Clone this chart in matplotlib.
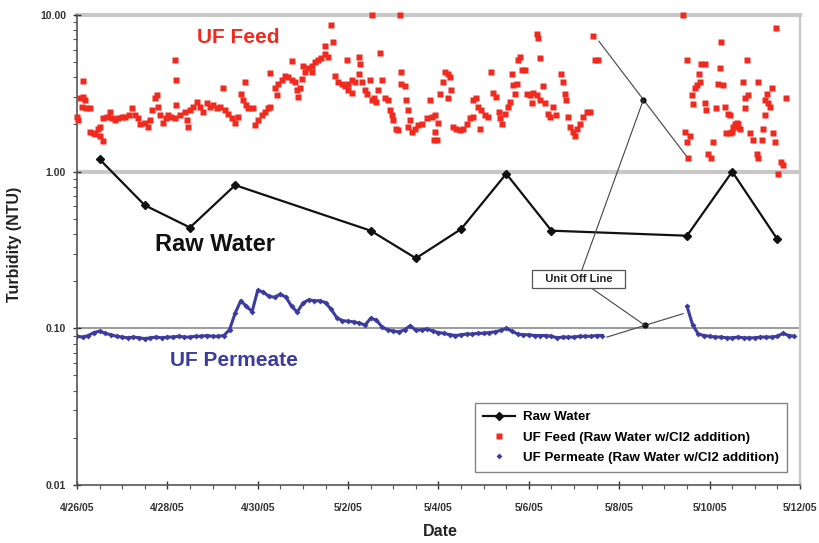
import numpy as np
import matplotlib
matplotlib.use("Agg")
import matplotlib.pyplot as plt
import matplotlib.dates as mdates
from matplotlib.lines import Line2D
from matplotlib.ticker import FuncFormatter, LogLocator, MultipleLocator, NullFormatter

plt.rcParams["font.family"] = ["Liberation Sans", "DejaVu Sans"]
plt.rcParams["font.weight"] = "bold"

START = np.datetime64("2005-04-26T00:00")

# raw water grab samples (days after 4/26/05 00:00, NTU)
raw_day = [0.5, 1.5, 2.5, 3.5, 6.5, 7.5, 8.5, 9.5, 10.5, 13.5, 14.5, 15.5]
raw_ntu = [1.2, 0.61, 0.44, 0.82, 0.42, 0.28, 0.43, 0.97, 0.42, 0.39, 1.0, 0.37]

# UF feed on-line turbidimeter (raw water w/Cl2 addition)
feed_day = [
    0.00, 0.03, 0.07, 0.10, 0.14, 0.14, 0.18, 0.21, 0.29, 0.29, 0.36, 0.40, 0.47, 0.51, 0.51, 0.58,
    0.58, 0.66, 0.73, 0.77, 0.84, 0.91, 0.99, 1.06, 1.14, 1.21, 1.28, 1.36, 1.39, 1.50, 1.58, 1.62,
    1.65, 1.73, 1.76, 1.80, 1.84, 1.91, 1.98, 2.02, 2.09, 2.17, 2.17, 2.20, 2.20, 2.28, 2.39, 2.43,
    2.46, 2.50, 2.57, 2.65, 2.72, 2.79, 2.87, 2.94, 3.02, 3.09, 3.16, 3.24, 3.27, 3.35, 3.42, 3.50,
    3.57, 3.64, 3.68, 3.72, 3.75, 3.79,
    3.90, 3.94, 4.01, 4.09, 4.16, 4.23, 4.27, 4.27, 4.38, 4.42, 4.45, 4.53, 4.60, 4.67, 4.75, 4.75,
    4.83, 4.86, 4.90, 4.93, 4.97, 5.01, 5.04, 5.12, 5.19, 5.19, 5.27, 5.34, 5.41, 5.49, 5.49, 5.56,
    5.63, 5.67, 5.71, 5.78, 5.86, 5.93, 5.97, 6.00, 6.00, 6.08, 6.08, 6.15, 6.23, 6.23, 6.26, 6.30,
    6.37, 6.41, 6.48, 6.52, 6.52, 6.58, 6.62, 6.67, 6.70, 6.74, 6.81, 6.89, 6.92, 6.96, 6.99, 7.07,
    7.11, 7.15, 7.18, 7.18, 7.26, 7.29, 7.33, 7.37, 7.33, 7.41, 7.48, 7.55, 7.63, 7.74, 7.81, 7.85,
    7.89,
    7.92, 7.96, 7.92, 7.99, 8.03, 8.10, 8.14, 8.21, 8.25, 8.28, 8.21, 8.33, 8.39, 8.47, 8.55, 8.62,
    8.69, 8.77, 8.77, 8.84, 8.92, 8.88, 8.95, 9.03, 9.10, 9.17, 9.21, 9.28, 9.33, 9.36, 9.40, 9.47,
    9.54, 9.58, 9.62, 9.65, 9.73, 9.69, 9.77, 9.84, 9.91, 9.80, 9.95, 10.02, 10.10, 10.06, 10.17, 10.20,
    10.24, 10.17, 10.24, 10.31, 10.35, 10.43, 10.46, 10.54, 10.61, 10.72, 10.76, 10.80, 10.83, 10.87, 10.91, 10.98,
    11.02, 11.06, 11.13, 11.20, 11.28, 11.35, 11.42, 11.46, 11.54,
    13.41, 13.52, 13.45, 13.56, 13.49, 13.49, 13.60, 13.64, 13.67, 13.71, 13.78, 13.77, 13.82, 13.89, 13.89, 13.93,
    13.97, 14.04, 14.08, 14.15, 14.19, 14.22, 14.26, 14.30, 14.34, 14.41, 14.45, 14.49, 14.52, 14.56, 14.60, 14.63,
    14.67, 14.45, 14.74, 14.78, 14.82, 14.85, 14.78, 14.89, 14.96, 15.04, 15.07, 15.15, 15.18, 15.22, 15.26, 15.29,
    15.33, 15.37, 15.41, 15.44, 15.48, 15.59, 15.62, 15.51, 15.70, 15.07, 15.22, 14.60, 14.37,
]
feed_ntu = [
    2.24, 2.14, 2.94, 2.60, 3.80, 3.00, 2.87, 2.54, 2.54, 1.80, 1.77, 1.74, 1.88, 1.93, 1.68, 1.56,
    2.19, 2.24, 2.40, 2.19, 2.14, 2.19, 2.24, 2.24, 2.30, 2.54, 2.30, 2.19, 2.00, 2.05, 1.93, 2.14,
    2.48, 2.94, 3.10, 2.60, 2.30, 2.05, 2.19, 2.30, 2.24, 2.19, 5.16, 2.65, 3.85, 2.30, 2.40, 2.14,
    1.93, 2.48, 2.60, 2.80, 2.60, 2.40, 2.75, 2.60, 2.65, 2.54, 2.60, 3.40, 2.48, 2.35, 2.19, 2.05,
    2.24, 3.15, 2.87, 3.75, 2.65, 2.54,
    2.54, 1.98, 2.14, 2.30, 2.40, 2.54, 2.60, 4.28, 3.40, 3.10, 3.65, 3.85, 4.10, 4.00, 3.85, 5.08,
    3.75, 3.32, 3.00, 3.40, 3.90, 4.75, 4.30, 4.60, 4.70, 4.30, 5.00, 5.16, 5.30, 5.60, 6.30, 5.40,
    8.60, 6.75, 4.10, 3.75, 3.65, 3.50, 5.16, 3.65, 3.30, 3.85, 3.20, 3.75, 4.20, 5.40, 4.90, 3.75,
    3.30, 3.15, 3.85, 10.0, 2.87, 2.95, 2.80, 3.30, 5.70, 3.85, 2.95, 2.87, 2.48, 2.30, 2.14, 1.88,
    1.85, 10.0, 4.30, 3.65, 3.50, 2.87, 2.48, 2.14, 1.93, 1.80, 1.88, 1.98, 2.00, 2.19, 2.87, 2.24,
    1.59,
    1.80, 1.59, 2.30, 2.05, 3.15, 3.75, 4.30, 4.20, 4.00, 3.30, 2.95, 1.93, 1.88, 1.85, 1.88, 2.00,
    2.19, 2.24, 2.87, 2.95, 1.88, 2.60, 2.48, 2.30, 2.24, 4.30, 3.20, 3.00, 2.40, 2.19, 2.00, 2.35,
    2.60, 2.80, 4.20, 3.55, 3.65, 3.15, 5.16, 4.46, 4.46, 5.40, 3.15, 3.10, 3.20, 2.75, 7.60, 7.10,
    5.30, 3.10, 2.87, 3.50, 2.75, 2.35, 2.24, 2.60, 2.30, 4.20, 3.75, 3.15, 2.87, 2.24, 1.93, 1.80,
    1.68, 1.88, 2.00, 2.24, 2.40, 2.40, 7.30, 5.16, 5.16,
    10.0, 1.22, 1.80, 1.70, 1.55, 5.16, 3.10, 2.70, 3.40, 3.55, 3.75, 4.20, 4.90, 4.90, 2.75, 2.48,
    1.30, 1.22, 1.55, 2.54, 3.65, 4.60, 6.75, 3.55, 2.60, 2.35, 1.77, 1.80, 1.93, 2.00, 1.93, 2.00,
    1.88, 2.30, 3.75, 2.95, 5.16, 3.10, 2.54, 1.77, 1.59, 1.30, 1.22, 1.59, 1.88, 2.30, 3.15, 2.75,
    2.60, 3.40, 1.77, 1.55, 8.20, 1.16, 1.10, 0.97, 2.95, 3.75, 2.87, 2.05, 1.77,
]

# UF permeate, 3-hour readings; unit off line between the two runs
perm1_start, perm2_start = 0.0, 13.5
perm1_ntu = [
    0.089, 0.088, 0.090, 0.094, 0.096, 0.093, 0.091, 0.089,
    0.088, 0.087, 0.088, 0.087, 0.086, 0.087, 0.088, 0.087,
    0.088, 0.088, 0.089, 0.088, 0.088, 0.089, 0.089, 0.090,
    0.089, 0.089, 0.090, 0.098, 0.125, 0.150, 0.138, 0.128,
    0.175, 0.170, 0.160, 0.158, 0.165, 0.158, 0.138, 0.127,
    0.145, 0.152, 0.150, 0.150, 0.146, 0.132, 0.117, 0.112,
    0.111, 0.110, 0.108, 0.105, 0.116, 0.113, 0.102, 0.098,
    0.096, 0.095, 0.098, 0.104, 0.097, 0.098, 0.099, 0.096,
    0.094, 0.093, 0.091, 0.090, 0.091, 0.092, 0.092, 0.093,
    0.093, 0.094, 0.095, 0.097, 0.100, 0.096, 0.092, 0.091,
    0.091, 0.090, 0.090, 0.090, 0.089, 0.087, 0.088, 0.088,
    0.088, 0.089, 0.089, 0.089, 0.090, 0.090,
]
perm2_ntu = [
    0.138, 0.105, 0.092, 0.090, 0.089, 0.088, 0.088, 0.087, 0.087, 0.088,
    0.087, 0.087, 0.087, 0.088, 0.088, 0.088, 0.089, 0.093, 0.090, 0.089,
]

# readings either side of the off-line period
gap_feed_day, gap_feed_ntu = [11.55, 13.52], [6.8, 1.22]
gap_perm_day, gap_perm_ntu = [11.73, 13.41], [0.088, 0.124]

tick_dates = ["2005-04-26", "2005-04-28", "2005-04-30", "2005-05-02", "2005-05-04",
              "2005-05-06", "2005-05-08", "2005-05-10", "2005-05-12"]


def to_dates(days):
    return START + (np.asarray(days, dtype=float) * 86400).astype("timedelta64[s]")


def perm_dates(start, n):
    return to_dates(start + np.arange(n) * 0.125)


def day_num(day):
    return mdates.date2num(to_dates([day])[0])


fig = plt.figure(figsize=(8.2, 5.43), dpi=100)
ax = fig.add_axes([0.0939, 0.1068, 0.8817, 0.8656])

RED = "#f02a1e"
BLUE = "#3c3ca0"

ax.axhline(1.0, color="#c8c8c8", lw=3, zorder=1)
ax.axhline(10.0, color="#c8c8c8", lw=3, zorder=1, clip_on=False)
ax.axhline(0.1, color="#8a8a8a", lw=1.2, zorder=1)

ax.plot(to_dates(feed_day), feed_ntu, "s", color=RED, ms=3.8, mec="none",
        zorder=3, clip_on=False)
for start, vals in ((perm1_start, perm1_ntu), (perm2_start, perm2_ntu)):
    ax.plot(perm_dates(start, len(vals)), vals, "-D", color=BLUE,
            lw=2.2, ms=3.0, mec="none", zorder=3)
ax.plot(to_dates(raw_day), raw_ntu, "-D", color="#111111", lw=1.6, ms=4.5,
        zorder=4)

# off-line connectors with a midpoint marker on each
dots = []
for d, v in ((gap_feed_day, gap_feed_ntu), (gap_perm_day, gap_perm_ntu)):
    ax.plot(to_dates(d), v, "-", color="#555555", lw=0.9, zorder=2)
    mid_d = to_dates([(d[0] + d[1]) / 2])[0]
    mid_v = np.sqrt(v[0] * v[1])
    ax.plot([mid_d], [mid_v], "o", color="#111111", ms=3.5, zorder=5)
    dots.append((mdates.date2num(mid_d), mid_v))

box_xy = (day_num(11.1), 0.206)
for dot in dots:
    ax.annotate("", xy=dot, xytext=box_xy,
                arrowprops=dict(arrowstyle="-", color="#444444", lw=0.8,
                                shrinkA=0, shrinkB=0), zorder=5)
ax.annotate("   Unit Off Line   ", xy=box_xy, xytext=box_xy, ha="center", va="center",
            fontsize=8, fontweight="bold", color="#222222", zorder=6,
            bbox=dict(boxstyle="square,pad=0.35", fc="white", ec="#555555", lw=0.9))

# series labels
ax.text(day_num(3.56), 7.2, "UF Feed", color=RED,
        fontsize=15, fontweight="bold", ha="center", va="center")
ax.text(day_num(1.72), 0.345, "Raw Water", color="#111111",
        fontsize=17, fontweight="bold", ha="left", va="center")
ax.text(day_num(2.06), 0.062, "UF Permeate", color=BLUE,
        fontsize=15, fontweight="bold", ha="left", va="center")

ax.set_yscale("log")
ax.set_ylim(0.01, 10)
ax.set_xlim(mdates.date2num(np.datetime64(tick_dates[0])),
            mdates.date2num(np.datetime64(tick_dates[-1])))

ax.yaxis.set_major_locator(LogLocator(base=10, numticks=10))
ax.yaxis.set_minor_locator(LogLocator(base=10, subs=np.arange(2, 10), numticks=10))
ax.yaxis.set_minor_formatter(NullFormatter())
ax.yaxis.set_major_formatter(FuncFormatter(lambda v, p: f"{v:.2f}"))

ax.set_xticks(mdates.date2num(np.array(tick_dates, dtype="datetime64[D]")))
ax.xaxis.set_minor_locator(MultipleLocator(0.5))
ax.xaxis.set_major_formatter(FuncFormatter(
    lambda v, p: (lambda d: f"{d.month}/{d.day}/{d:%y}")(mdates.num2date(v))))

ax.tick_params(axis="both", which="major", labelsize=7.5, colors="#333333",
               direction="inout", length=6, width=1)
ax.tick_params(axis="both", which="minor", colors="#555555", direction="out",
               length=3, width=0.8)
ax.tick_params(axis="x", which="major", pad=10)
ax.tick_params(axis="y", which="major", pad=5)

for side in ("left", "bottom"):
    ax.spines[side].set_color("#555555")
    ax.spines[side].set_linewidth(1.2)
ax.spines["top"].set_visible(False)
ax.spines["right"].set_color("#c8c8c8")
ax.spines["right"].set_linewidth(1.6)

fig.text(15 / 820, 1 - 244 / 543, "Turbidity (NTU)", rotation=90, ha="center",
         va="center", fontsize=11.5, fontweight="bold", color="#222222")
fig.text(440 / 820, 1 - 531 / 543, "Date", ha="center", va="center",
         fontsize=11.5, fontweight="bold", color="#222222")

handles = [
    Line2D([], [], color="#111111", marker="D", lw=1.6, ms=4.5),
    Line2D([], [], color=RED, marker="s", lw=0, ms=3.8, mec="none"),
    Line2D([], [], color=BLUE, marker="D", lw=0, ms=3.0, mec="none"),
]
labels = ["Raw Water", "UF Feed (Raw Water w/Cl2 addition)",
          "UF Permeate (Raw Water w/Cl2 addition)"]
leg = ax.legend(handles, labels, loc="lower right", bbox_to_anchor=(0.982, 0.028),
                borderaxespad=0, fontsize=9.6, frameon=True, fancybox=False,
                handlelength=2.4, handletextpad=0.6, labelspacing=0.6,
                borderpad=0.6, edgecolor="#666666")
leg.get_frame().set_linewidth(1.0)
for t in leg.get_texts():
    t.set_fontweight("bold")

fig.savefig("out.png", dpi=100)
